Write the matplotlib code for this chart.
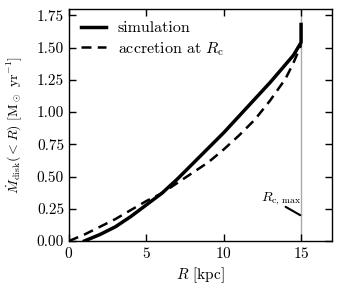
import matplotlib
matplotlib.use("Agg")
import matplotlib.pyplot as plt
import numpy as np

plt.rcParams.update({
    "font.family": "cmr10",
    "mathtext.fontset": "cm",
    "axes.formatter.use_mathtext": True,
    "font.size": 11,
})

R_sim = [1, 2, 3, 4, 5, 6, 7, 8, 9, 10, 11, 12, 13, 14, 14.5, 14.9, 15.0, 15.0]
M_sim = [0.0, 0.05, 0.11, 0.19, 0.28, 0.37, 0.48, 0.60, 0.72, 0.84, 0.97, 1.10, 1.23, 1.37, 1.44, 1.52, 1.54, 1.68]

R_acc = [0, 1, 2, 3, 4, 5, 6, 7, 8, 9, 10, 11, 12, 13, 14, 14.5, 15]
M_acc = [0.0, 0.05, 0.11, 0.17, 0.24, 0.31, 0.37, 0.45, 0.53, 0.61, 0.71, 0.82, 0.94, 1.09, 1.26, 1.38, 1.52]

R_cmax = 15.0

fig = plt.figure(figsize=(3.43, 2.90), dpi=100)
ax = fig.add_axes([0.201, 0.169, 0.767, 0.800])

ax.axvline(R_cmax, color="#aaaaaa", lw=1.0, zorder=1)
ax.plot(R_sim, M_sim, color="black", lw=2.5, label="simulation", zorder=3)
ax.plot(R_acc, M_acc, color="black", lw=1.8, ls=(0, (4, 2.5)), label=r"accretion at $R_{\rm c}$", zorder=3)

ax.annotate("", xy=(14.95, 0.2), xytext=(14.0, 0.265),
            arrowprops=dict(arrowstyle="-", color="black", lw=1.5, shrinkA=0, shrinkB=0))
ax.text(13.7, 0.33, r"$R_{\rm c,\,max}$", ha="center", va="center", fontsize=10)

ax.set_xlim(0, 17)
ax.set_ylim(0, 1.8)
ax.set_xticks([0, 5, 10, 15])
ax.set_yticks(np.arange(0, 1.76, 0.25))
ax.yaxis.set_major_formatter(matplotlib.ticker.FormatStrFormatter("%.2f"))
ax.tick_params(direction="in", top=True, right=True, length=5, width=1, labelsize=11)
for s in ax.spines.values():
    s.set_linewidth(1.0)

ax.set_xlabel(r"$R$ [kpc]", fontsize=11, labelpad=3)
ax.set_ylabel(r"$\dot{M}_{\rm disk}(<R)$ [M$_\odot$ yr$^{-1}$]", fontsize=10, labelpad=9)

ax.legend(loc="upper left", frameon=False, fontsize=11.5, handlelength=1.6,
          handletextpad=0.7, borderaxespad=0.35, labelspacing=0.3)

fig.savefig("out.png", dpi=100)
